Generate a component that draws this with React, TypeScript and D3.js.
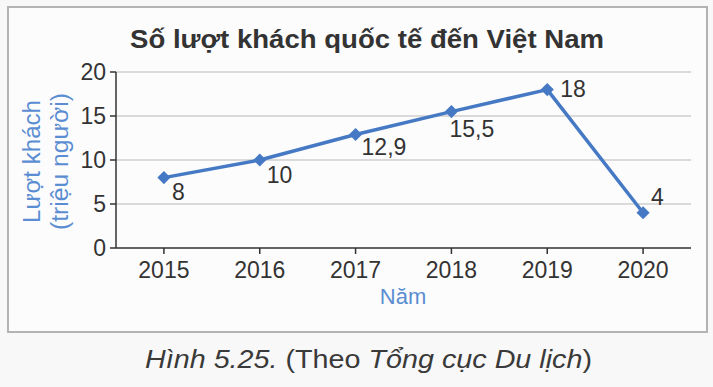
import React from "react";
import * as d3 from "d3";

const years = ["2015", "2016", "2017", "2018", "2019", "2020"];
const visitors = [8, 10, 12.9, 15.5, 18, 4];
const valueLabels = ["8", "10", "12,9", "15,5", "18", "4"];
const yTicks = [0, 5, 10, 15, 20];
const title = "Số lượt khách quốc tế đến Việt Nam";

const W = 713;
const H = 387;
const plot = { left: 116, right: 691, top: 72, bottom: 248 };
const BLUE = "#4679c4";
const LABEL_BLUE = "#5b8dd2";
const TEXT = "#333333";
const FONT = "'Liberation Sans', Arial, sans-serif";

// label placement relative to the point
const labelOffsets: [number, number][] = [
  [8, 22],
  [7, 23],
  [6, 21],
  [-2, 25],
  [13, 7],
  [8, -8],
];

export default function App() {
  const x = d3.scaleBand<string>().domain(years).range([plot.left, plot.right]);
  const y = d3.scaleLinear().domain([0, 20]).range([plot.bottom, plot.top]);
  const cx = (d: string) => (x(d) ?? 0) + x.bandwidth() / 2;
  const line = d3
    .line<number>()
    .x((_, i) => cx(years[i]))
    .y((v) => y(v));
  const diamond = d3.symbol().type(d3.symbolDiamond2).size(110)() ?? "";

  return (
    <svg
      width={W}
      height={H}
      style={{ position: "absolute", left: 0, top: 0, fontFamily: FONT }}
    >
      <rect x={0} y={0} width={W} height={H} fill="#f8f8f8" />
      <rect x={8} y={7} width={699} height={325} fill="#fcfcfc" stroke="#b3b3b3" strokeWidth={2} />

      <text
        x={367}
        y={48}
        textAnchor="middle"
        fontSize={26}
        fontWeight="bold"
        fill={TEXT}
        textLength={474}
        lengthAdjust="spacingAndGlyphs"
      >
        {title}
      </text>

      {/* grid */}
      {yTicks.filter((t) => t > 0).map((t) => (
        <line key={t} x1={plot.left} x2={plot.right} y1={y(t)} y2={y(t)} stroke="#b8b8b8" strokeWidth={1.2} />
      ))}

      {/* axes */}
      <line x1={plot.left} x2={plot.left} y1={plot.top} y2={plot.bottom} stroke="#333" strokeWidth={1.5} />
      <line x1={plot.left} x2={plot.right} y1={plot.bottom} y2={plot.bottom} stroke="#333" strokeWidth={1.5} />
      {yTicks.map((t) => (
        <g key={t}>
          <line x1={plot.left - 6} x2={plot.left} y1={y(t)} y2={y(t)} stroke="#333" strokeWidth={1.5} />
          <text x={106} y={y(t) + 8} textAnchor="end" fontSize={23} fill={TEXT}>
            {t}
          </text>
        </g>
      ))}
      {years.map((yr) => (
        <g key={yr}>
          <line x1={cx(yr)} x2={cx(yr)} y1={plot.bottom} y2={plot.bottom + 6} stroke="#333" strokeWidth={1.5} />
          <text x={cx(yr)} y={278} textAnchor="middle" fontSize={23} fill={TEXT}>
            {yr}
          </text>
        </g>
      ))}

      <text x={403} y={304} textAnchor="middle" fontSize={22} fill={LABEL_BLUE}>
        Năm
      </text>
      <text
        transform="translate(40,161.5) rotate(-90)"
        textAnchor="middle"
        fontSize={23}
        fill={LABEL_BLUE}
        textLength={123}
        lengthAdjust="spacingAndGlyphs"
      >
        Lượt khách
      </text>
      <text
        transform="translate(68,161.5) rotate(-90)"
        textAnchor="middle"
        fontSize={23}
        fill={LABEL_BLUE}
        textLength={137}
        lengthAdjust="spacingAndGlyphs"
      >
        (triệu người)
      </text>

      {/* series */}
      <path d={line(visitors) ?? ""} fill="none" stroke={BLUE} strokeWidth={3.5} strokeLinejoin="round" />
      {visitors.map((v, i) => (
        <path key={i} d={diamond} transform={`translate(${cx(years[i])},${y(v)})`} fill={BLUE} />
      ))}
      {visitors.map((v, i) => (
        <text
          key={i}
          x={cx(years[i]) + labelOffsets[i][0]}
          y={y(v) + labelOffsets[i][1]}
          fontSize={23}
          fill={TEXT}
        >
          {valueLabels[i]}
        </text>
      ))}

      <text
        x={368.5}
        y={368}
        textAnchor="middle"
        fontSize={25}
        fill="#3a3a3a"
        textLength={447}
        lengthAdjust="spacingAndGlyphs"
      >
        <tspan fontStyle="italic">Hình 5.25.</tspan>
        <tspan> (Theo </tspan>
        <tspan fontStyle="italic">Tổng cục Du lịch</tspan>
        <tspan>)</tspan>
      </text>
    </svg>
  );
}
